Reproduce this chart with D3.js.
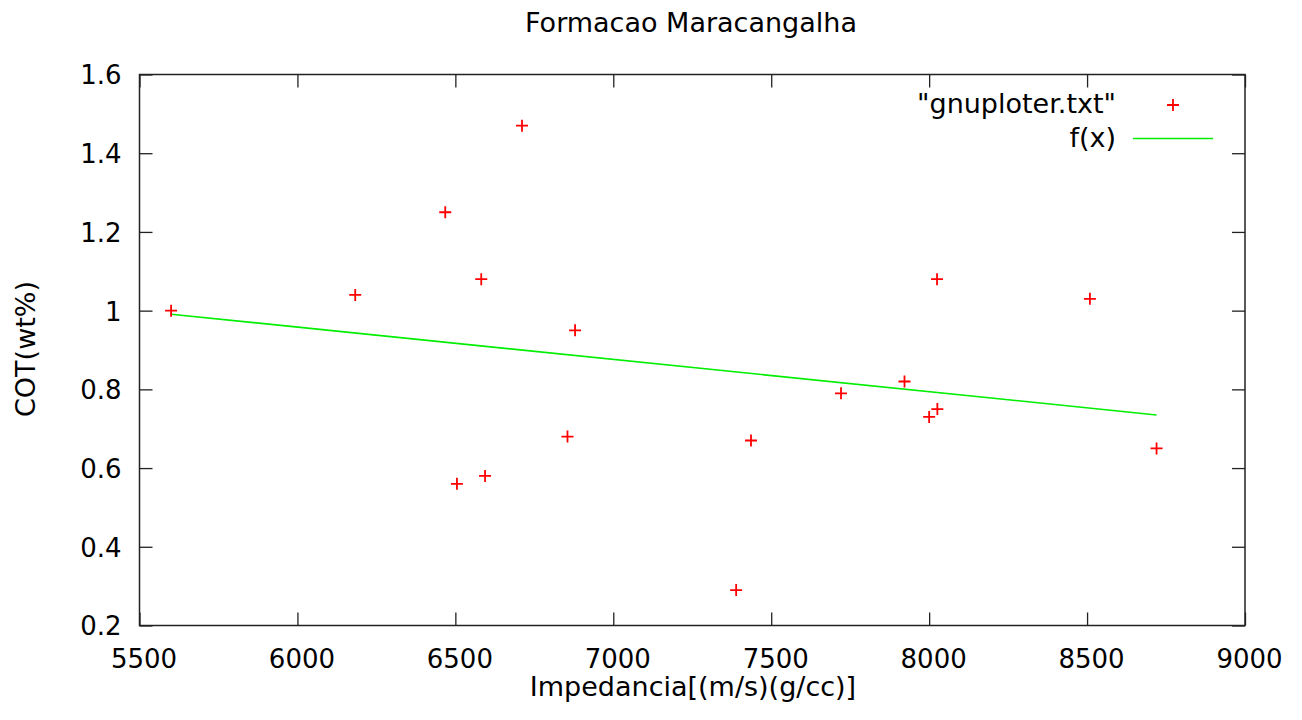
<!DOCTYPE html>
<html>
<head>
<meta charset="utf-8">
<script src="https://cdn.jsdelivr.net/npm/d3@7"></script>
<style>
  body { margin: 0; background: #fff; }
  text { font-family: 'DejaVu Sans', sans-serif; fill: #000; }
</style>
</head>
<body>
<div class="svg"></div>
<script>
const width = 1302
const height = 720
const padLeft = 139.5
const padRight = 1245
const padTop = 74.5
const padBottom = 625.5

// data
const impedancia = [5600, 6183, 6468, 6711, 6582, 6879, 6505, 6594, 6855, 7436, 7389, 7721, 7922, 8025, 8026, 8000, 8509, 8720]
const cot = [1.00, 1.04, 1.25, 1.47, 1.08, 0.95, 0.56, 0.58, 0.68, 0.67, 0.29, 0.79, 0.82, 1.08, 0.75, 0.73, 1.03, 0.65]
const fitX = [5600, 8720]
const fitY = [0.991, 0.735]
const xTicks = [5500, 6000, 6500, 7000, 7500, 8000, 8500, 9000]
const yTicks = [0.2, 0.4, 0.6, 0.8, 1, 1.2, 1.4, 1.6]

const svg = d3
  .select('.svg')
  .append('svg')
  .attr('width', width)
  .attr('height', height)

const xScale = d3.scaleLinear().domain([5500, 9000]).range([padLeft, padRight])
const yScale = d3.scaleLinear().domain([0.2, 1.6]).range([padBottom, padTop])

const tick = 13

// axes with inward ticks, mirrored on top and right
const xAxis = d3.axisBottom(xScale).tickValues(xTicks).tickSize(-tick).tickPadding(0).tickFormat(d3.format('d'))
const xAxisTop = d3.axisTop(xScale).tickValues(xTicks).tickSize(-tick).tickFormat('')
const yAxis = d3.axisLeft(yScale).tickValues(yTicks).tickSize(-tick).tickPadding(0).tickFormat(d => String(+d.toFixed(1)))
const yAxisRight = d3.axisRight(yScale).tickValues(yTicks).tickSize(-tick).tickFormat('')

const gx = svg.append('g').attr('transform', 'translate(0,' + padBottom + ')').call(xAxis)
svg.append('g').attr('transform', 'translate(0,' + padTop + ')').call(xAxisTop)
const gy = svg.append('g').attr('transform', 'translate(' + padLeft + ',0)').call(yAxis)
svg.append('g').attr('transform', 'translate(' + padRight + ',0)').call(yAxisRight)

svg.selectAll('.domain').remove()
svg.selectAll('.tick line').attr('stroke', '#222').attr('stroke-width', 1.3)

gx.selectAll('text')
  .attr('y', 42)
  .attr('dy', 0)
  .attr('dx', 4)
  .style('font-size', '26px')
  .style('font-family', 'DejaVu Sans')
  .attr('fill', '#000')

gy.selectAll('text')
  .attr('x', -18)
  .attr('dy', '0.36em')
  .style('font-size', '26px')
  .style('font-family', 'DejaVu Sans')
  .attr('fill', '#000')

// frame
svg
  .append('rect')
  .attr('x', padLeft)
  .attr('y', padTop)
  .attr('width', padRight - padLeft)
  .attr('height', padBottom - padTop)
  .attr('fill', 'none')
  .attr('stroke', '#222')
  .attr('stroke-width', 1.5)

// titles
svg
  .append('text')
  .attr('x', 691)
  .attr('y', 32)
  .attr('text-anchor', 'middle')
  .style('font-size', '27px')
  .text('Formacao Maracangalha')

svg
  .append('text')
  .attr('x', 693)
  .attr('y', 696)
  .attr('text-anchor', 'middle')
  .style('font-size', '27px')
  .text('Impedancia[(m/s)(g/cc)]')

svg
  .append('text')
  .attr('transform', 'translate(35,349) rotate(-90)')
  .attr('text-anchor', 'middle')
  .style('font-size', '27px')
  .text('COT(wt%)')

// fit line
const fit = fitX.map((x, i) => [x, fitY[i]])
svg
  .append('path')
  .datum(fit)
  .attr('fill', 'none')
  .attr('stroke', '#00ee00')
  .attr('stroke-width', 1.6)
  .attr('d', d3.line().x(d => xScale(d[0])).y(d => yScale(d[1])))

// data crosses
const s = 6
const cross = 'M' + -s + ',0H' + s + 'M0,' + -s + 'V' + s
svg
  .selectAll('.pt')
  .data(impedancia.map((x, i) => [x, cot[i]]))
  .enter()
  .append('path')
  .attr('class', 'pt')
  .attr('transform', d => 'translate(' + xScale(d[0]) + ',' + yScale(d[1]) + ')')
  .attr('d', cross)
  .attr('stroke', '#ff0000')
  .attr('stroke-width', 1.8)

// legend
const legend = svg.append('g')
legend
  .append('text')
  .attr('x', 1116)
  .attr('y', 113)
  .attr('text-anchor', 'end')
  .style('font-size', '27px')
  .text('"gnuploter.txt"')
legend
  .append('path')
  .attr('transform', 'translate(1173,105)')
  .attr('d', cross)
  .attr('stroke', '#ff0000')
  .attr('stroke-width', 1.8)
legend
  .append('text')
  .attr('x', 1116)
  .attr('y', 147)
  .attr('text-anchor', 'end')
  .style('font-size', '27px')
  .text('f(x)')
legend
  .append('line')
  .attr('x1', 1133)
  .attr('x2', 1213)
  .attr('y1', 138.5)
  .attr('y2', 138.5)
  .attr('stroke', '#00ee00')
  .attr('stroke-width', 1.6)
</script>
</body>
</html>
